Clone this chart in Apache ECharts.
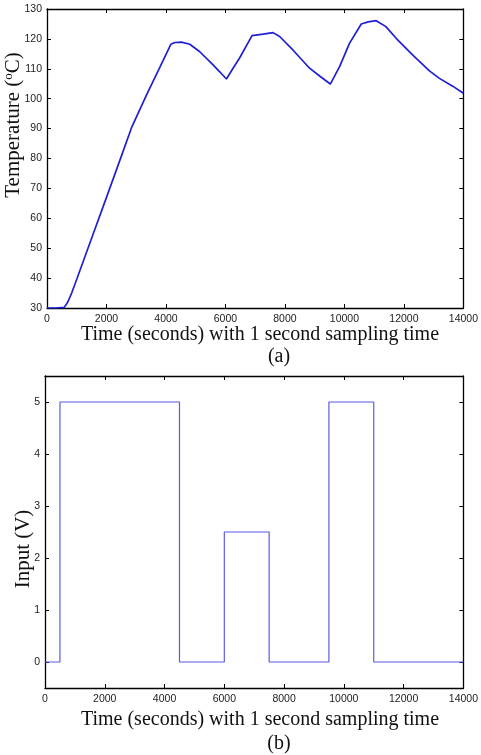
<!DOCTYPE html>
<html>
<head>
<meta charset="utf-8">
<script src="https://cdn.jsdelivr.net/npm/echarts@6/dist/echarts.min.js"></script>
<style>
  html, body { margin: 0; padding: 0; background: #fff; }
  #main { width: 481px; height: 755px; }
</style>
</head>
<body>
<div id="main"></div>
<script>
// (a) temperature
var tempTime  = [0, 300, 581, 700, 829, 1000, 1500, 2000, 2500, 2854, 3347, 3906, 4163, 4300, 4522, 4800, 5137, 5583, 5808, 6033,
                 6256, 6480, 6893, 7262, 7598, 7822, 8267, 8829, 9165, 9525, 9837, 10170, 10565, 10800, 11068, 11395, 11739,
                 12299, 12858, 13194, 13640, 14000];
var tempValue = [30, 30, 30.2, 32, 35.0, 39.6, 53.3, 67.0, 80.8, 90.6, 101.3, 112.8, 118.2, 118.8, 118.9, 118.2, 115.7, 111.3, 109.0, 106.6,
                 110.2, 113.7, 121.1, 121.6, 122.1, 120.8, 116.3, 110.2, 107.6, 104.9, 110.7, 118.5, 125.0, 125.7, 126.1, 124.1, 120.2,
                 114.6, 109.3, 106.8, 104.2, 101.8];
// (b) input voltage, held from each time until the next
var inputTime  = [0, 500, 4500, 6000, 7500, 9500, 11000, 14000];
var inputValue = [0, 5, 0, 2.5, 0, 5, 0, 0];
var inputTicks = [0, 1, 2, 3, 4, 5];

var xTitle = 'Time (seconds) with 1 second sampling time';

var chart = echarts.init(document.getElementById('main'));

var lbl = { color: '#222', fontSize: 10.5, fontFamily: 'Liberation Sans', formatter: function(v){ return String(v); } };
var axLine = { show: true, onZero: false, lineStyle: { color: '#000', width: 1.3 } };
var tick = { show: true, inside: true, length: 4, lineStyle: { color: '#000', width: 1 } };
var serif = '20px "Liberation Serif"', serifY = '21px "Liberation Serif"';

function pair(a, b) { return a.map(function(d, i){ return [d, b[i]]; }); }

var option = {
  animation: false,
  grid: [
    { left: 47, top: 9, right: 17, height: 299 },
    { left: 45, top: 376, right: 17, height: 312 }
  ],
  xAxis: [
    { gridIndex: 0, type: 'value', min: 0, max: 14000, interval: 2000, position: 'bottom',
      axisLine: axLine, axisTick: tick, splitLine: { show: false },
      axisLabel: Object.assign({ margin: 6 }, lbl) },
    { gridIndex: 0, type: 'value', min: 0, max: 14000, interval: 2000, position: 'top',
      axisLine: axLine, axisTick: tick, splitLine: { show: false }, axisLabel: { show: false } },
    { gridIndex: 1, type: 'value', min: 0, max: 14000, interval: 2000, position: 'bottom',
      axisLine: axLine, axisTick: tick, splitLine: { show: false },
      axisLabel: Object.assign({ margin: 6 }, lbl) },
    { gridIndex: 1, type: 'value', min: 0, max: 14000, interval: 2000, position: 'top',
      axisLine: axLine, axisTick: tick, splitLine: { show: false }, axisLabel: { show: false } }
  ],
  yAxis: [
    { gridIndex: 0, type: 'value', min: 30, max: 130, interval: 10, position: 'left',
      axisLine: axLine, axisTick: tick, splitLine: { show: false },
      axisLabel: Object.assign({ margin: 5 }, lbl) },
    { gridIndex: 0, type: 'value', min: 30, max: 130, interval: 10, position: 'right',
      axisLine: axLine, axisTick: tick, splitLine: { show: false }, axisLabel: { show: false } },
    { gridIndex: 1, type: 'value', min: -0.5, max: 5.5, position: 'left',
      axisLine: axLine, splitLine: { show: false },
      axisTick: Object.assign({ customValues: inputTicks }, tick),
      axisLabel: Object.assign({ margin: 5, customValues: inputTicks }, lbl) },
    { gridIndex: 1, type: 'value', min: -0.5, max: 5.5, position: 'right',
      axisLine: axLine, splitLine: { show: false },
      axisTick: Object.assign({ customValues: inputTicks }, tick), axisLabel: { show: false } }
  ],
  series: [
    { type: 'line', xAxisIndex: 0, yAxisIndex: 0, data: pair(tempTime, tempValue),
      showSymbol: false, lineStyle: { color: '#1f1fd4', width: 1.7 } },
    { type: 'line', xAxisIndex: 2, yAxisIndex: 2, data: pair(inputTime, inputValue), step: 'end',
      showSymbol: false, lineStyle: { color: '#5b5be8', width: 1.2 } }
  ],
  graphic: [
    { type: 'text', x: 260, y: 335, style: { text: xTitle, font: serif, fill: '#111', align: 'center', verticalAlign: 'middle' } },
    { type: 'text', x: 279, y: 357, style: { text: '(a)', font: serif, fill: '#111', align: 'center', verticalAlign: 'middle' } },
    { type: 'text', x: 13, y: 125, rotation: Math.PI / 2,
      style: { text: 'Temperature ({sup|o}C)', font: serifY, fill: '#111', align: 'center', verticalAlign: 'middle',
        rich: { sup: { fontSize: 13, fontFamily: 'Liberation Serif', fill: '#111', padding: [0, 0, 9, 0] } } } },
    { type: 'text', x: 260, y: 720, style: { text: xTitle, font: serif, fill: '#111', align: 'center', verticalAlign: 'middle' } },
    { type: 'text', x: 279, y: 744, style: { text: '(b)', font: serif, fill: '#111', align: 'center', verticalAlign: 'middle' } },
    { type: 'text', x: 23, y: 549, rotation: Math.PI / 2,
      style: { text: 'Input (V)', font: serifY, fill: '#111', align: 'center', verticalAlign: 'middle' } }
  ]
};

chart.setOption(option);
</script>
</body>
</html>
